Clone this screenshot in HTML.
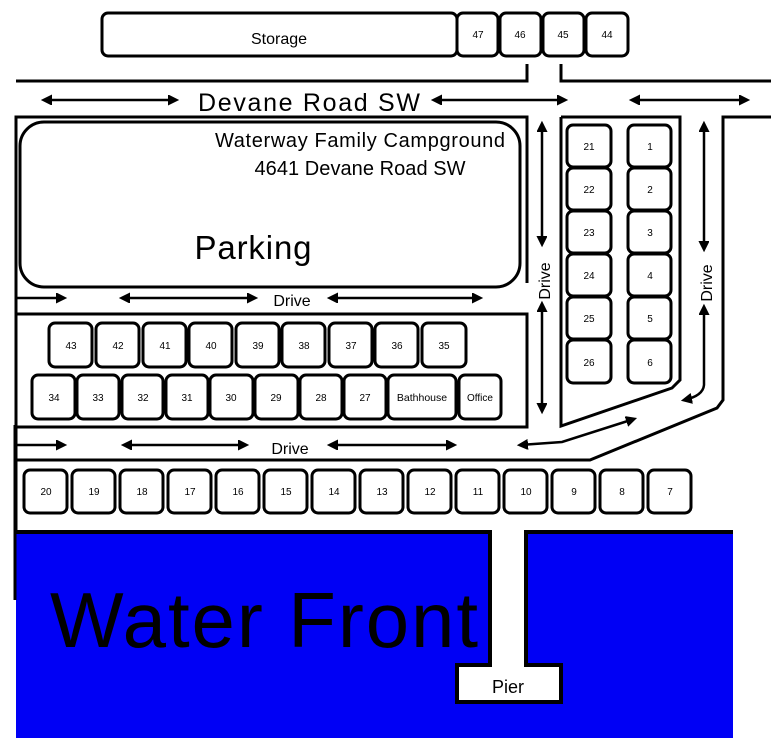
<!DOCTYPE html>
<html><head><meta charset="utf-8"><style>
html,body{margin:0;padding:0;background:#fff;}
svg{display:block;}
text{font-family:"Liberation Sans",sans-serif;fill:#000;}
</style></head><body>
<svg width="780" height="752" viewBox="0 0 780 752" xmlns="http://www.w3.org/2000/svg">
<defs>
<marker id="ah" markerWidth="16" markerHeight="16" refX="8" refY="5" orient="auto-start-reverse" markerUnits="userSpaceOnUse">
<path d="M0,0 L10,5 L0,10 L3,5 Z" fill="#000" transform="scale(1.6) translate(-3,-1.9)"/>
</marker>
</defs>
<g fill="none" stroke="#000" stroke-width="3">
<rect x="102" y="13" width="355" height="43" rx="6" fill="#fff"/>
<rect x="457" y="13" width="41" height="43" rx="6" fill="#fff"/>
<rect x="500" y="13" width="41" height="43" rx="6" fill="#fff"/>
<rect x="543" y="13" width="41" height="43" rx="6" fill="#fff"/>
<rect x="586" y="13" width="42" height="43" rx="6" fill="#fff"/>
<polyline points="16,81 527,81 527,64"/>
<polyline points="561,64 561,81 771,81"/>
<polyline points="16,600 16,117 527,117 527,283"/>
<polyline points="771,117 723,117 723,400 717,408 590,460 16,460"/>
<polyline points="561,117 680,117 680,380 672,388 561,426 561,117"/>
<rect x="20" y="122" width="500" height="165" rx="24"/>
<polyline points="16,314 527,314 527,427 16,427"/>
<g marker-start="url(#ah)" marker-end="url(#ah)" stroke-width="2.5">
<line x1="44" y1="100" x2="176" y2="100"/>
<line x1="434" y1="100" x2="565" y2="100"/>
<line x1="632" y1="100" x2="747" y2="100"/>
<line x1="122" y1="298" x2="255" y2="298"/>
<line x1="330" y1="298" x2="480" y2="298"/>
<line x1="124" y1="445" x2="246" y2="445"/>
<line x1="330" y1="445" x2="454" y2="445"/>
<line x1="542" y1="124" x2="542" y2="244"/>
<line x1="542" y1="304" x2="542" y2="411"/>
<line x1="704" y1="124" x2="704" y2="249"/>
<path d="M520,445 L562,442 L634,419"/>
<path d="M704,307 L704,385 Q703,396 684,400"/>
</g>
<g marker-end="url(#ah)" stroke-width="2.5">
<line x1="16" y1="298" x2="64" y2="298"/>
<line x1="16" y1="445" x2="64" y2="445"/>
</g>
</g>
<rect x="16" y="532" width="717" height="206" fill="#0000f5"/>
<rect x="490" y="528" width="36" height="140" fill="#fff"/>
<g fill="none" stroke="#000" stroke-width="4">
<polyline points="16,532 490,532 490,665 457,665 457,702 561,702 561,665 526,665 526,532 733,532"/>
</g>
<rect x="459" y="667" width="100" height="33" fill="#fff"/>
<line x1="15" y1="425" x2="15" y2="600" stroke="#000" stroke-width="3"/>
<g fill="#fff" stroke="#000" stroke-width="3">
<rect x="49" y="323" width="43" height="44" rx="6"/><rect x="96" y="323" width="43" height="44" rx="6"/><rect x="143" y="323" width="43" height="44" rx="6"/><rect x="189" y="323" width="43" height="44" rx="6"/><rect x="236" y="323" width="43" height="44" rx="6"/><rect x="282" y="323" width="43" height="44" rx="6"/><rect x="329" y="323" width="43" height="44" rx="6"/><rect x="375" y="323" width="43" height="44" rx="6"/><rect x="422" y="323" width="44" height="44" rx="6"/>
<rect x="32" y="375" width="43" height="44" rx="6"/><rect x="77" y="375" width="42" height="44" rx="6"/><rect x="122" y="375" width="41" height="44" rx="6"/><rect x="166" y="375" width="42" height="44" rx="6"/><rect x="210" y="375" width="43" height="44" rx="6"/><rect x="255" y="375" width="43" height="44" rx="6"/><rect x="300" y="375" width="42" height="44" rx="6"/><rect x="344" y="375" width="42" height="44" rx="6"/><rect x="388" y="375" width="68" height="44" rx="6"/><rect x="459" y="375" width="42" height="44" rx="6"/>
<rect x="567" y="125" width="44" height="42" rx="6"/><rect x="567" y="168" width="44" height="42" rx="6"/><rect x="567" y="211" width="44" height="42" rx="6"/><rect x="567" y="254" width="44" height="42" rx="6"/><rect x="567" y="297" width="44" height="42" rx="6"/><rect x="567" y="340" width="44" height="43" rx="6"/>
<rect x="628" y="125" width="43" height="42" rx="6"/><rect x="628" y="168" width="43" height="42" rx="6"/><rect x="628" y="211" width="43" height="42" rx="6"/><rect x="628" y="254" width="43" height="42" rx="6"/><rect x="628" y="297" width="43" height="42" rx="6"/><rect x="628" y="340" width="43" height="43" rx="6"/>
<rect x="24" y="470" width="43" height="43" rx="6"/><rect x="72" y="470" width="43" height="43" rx="6"/><rect x="120" y="470" width="43" height="43" rx="6"/><rect x="168" y="470" width="43" height="43" rx="6"/><rect x="216" y="470" width="43" height="43" rx="6"/><rect x="264" y="470" width="43" height="43" rx="6"/><rect x="312" y="470" width="43" height="43" rx="6"/><rect x="360" y="470" width="43" height="43" rx="6"/><rect x="408" y="470" width="43" height="43" rx="6"/><rect x="456" y="470" width="43" height="43" rx="6"/><rect x="504" y="470" width="43" height="43" rx="6"/><rect x="552" y="470" width="43" height="43" rx="6"/><rect x="600" y="470" width="43" height="43" rx="6"/><rect x="648" y="470" width="43" height="43" rx="6"/>
</g>
<g font-size="10" text-anchor="middle">
<text x="71" y="349">43</text><text x="118" y="349">42</text><text x="165" y="349">41</text><text x="211" y="349">40</text><text x="258" y="349">39</text><text x="304" y="349">38</text><text x="351" y="349">37</text><text x="397" y="349">36</text><text x="444" y="349">35</text>
<text x="54" y="401">34</text><text x="98" y="401">33</text><text x="143" y="401">32</text><text x="187" y="401">31</text><text x="231" y="401">30</text><text x="276" y="401">29</text><text x="321" y="401">28</text><text x="365" y="401">27</text><text x="422" y="401" font-size="10.5">Bathhouse</text><text x="480" y="401">Office</text>
<text x="589" y="150">21</text><text x="589" y="193">22</text><text x="589" y="236">23</text><text x="589" y="279">24</text><text x="589" y="322">25</text><text x="589" y="366">26</text>
<text x="650" y="150">1</text><text x="650" y="193">2</text><text x="650" y="236">3</text><text x="650" y="279">4</text><text x="650" y="322">5</text><text x="650" y="366">6</text>
<text x="46" y="495">20</text><text x="94" y="495">19</text><text x="142" y="495">18</text><text x="190" y="495">17</text><text x="238" y="495">16</text><text x="286" y="495">15</text><text x="334" y="495">14</text><text x="382" y="495">13</text><text x="430" y="495">12</text><text x="478" y="495">11</text><text x="526" y="495">10</text><text x="574" y="495">9</text><text x="622" y="495">8</text><text x="670" y="495">7</text>
<text x="478" y="38">47</text><text x="520" y="38">46</text><text x="563" y="38">45</text><text x="607" y="38">44</text>
</g>
<text x="279" y="44" font-size="16" text-anchor="middle">Storage</text>
<text x="309" y="111" font-size="25" text-anchor="middle" textLength="222">Devane Road SW</text>
<text x="360" y="147" font-size="20" text-anchor="middle" textLength="290">Waterway Family Campground</text>
<text x="360" y="175" font-size="20" text-anchor="middle" textLength="211">4641 Devane Road SW</text>
<text x="253" y="259" font-size="33" text-anchor="middle" textLength="117">Parking</text>
<text x="292" y="306" font-size="16" text-anchor="middle">Drive</text>
<text x="290" y="454" font-size="16" text-anchor="middle">Drive</text>
<text transform="translate(550,281) rotate(-90)" font-size="16" text-anchor="middle">Drive</text>
<text transform="translate(712,283) rotate(-90)" font-size="16" text-anchor="middle">Drive</text>
<text x="264" y="647" font-size="78" text-anchor="middle" textLength="428">Water Front</text>
<text x="508" y="693" font-size="18" text-anchor="middle">Pier</text>
</svg>
</body></html>
